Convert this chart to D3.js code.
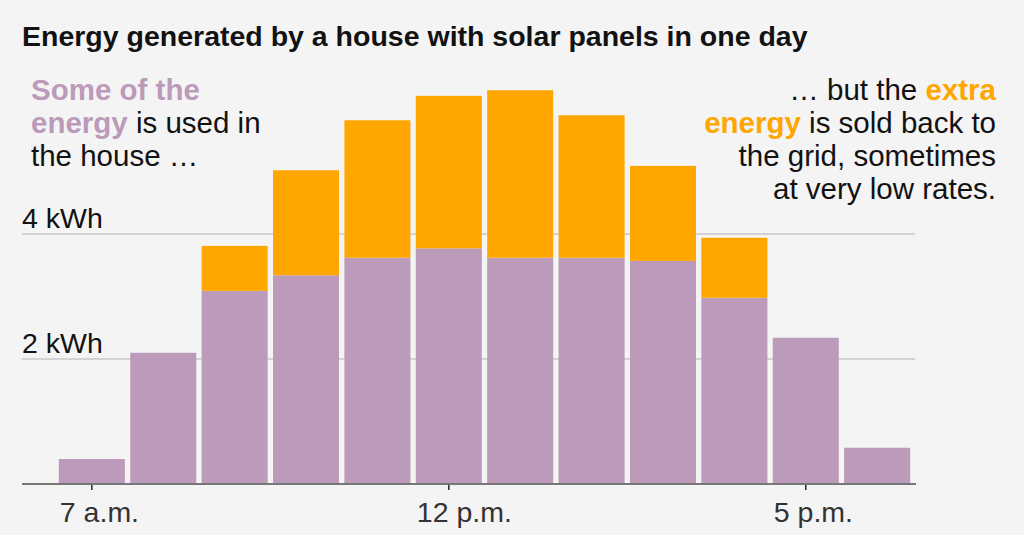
<!DOCTYPE html>
<html><head><meta charset="utf-8">
<script src="https://cdn.jsdelivr.net/npm/d3@7"></script>
<style>
html,body{margin:0;padding:0;background:#f4f4f4;}
svg{display:block;}
</style></head>
<body>
<svg id="c" width="1024" height="535"></svg>
<script>
const hours = ["7","8","9","10","11","12","13","14","15","16","17","18"];
const used  = [0.40, 2.10, 3.09, 3.34, 3.62, 3.77, 3.62, 3.62, 3.57, 2.98, 2.34, 0.58];
const extra = [0.00, 0.00, 0.72, 1.68, 2.20, 2.44, 2.68, 2.28, 1.52, 0.96, 0.00, 0.00];
const yTicks = [2, 4];
const yTickLabels = ["2 kWh", "4 kWh"];
const xTicks = ["7", "12", "17"];
const xTickLabels = ["7 a.m.", "12 p.m.", "5 p.m."];

const purple = "#bb9aba", orange = "#ffa600";
const ff = "'Liberation Sans', Arial, sans-serif";
const svg = d3.select("#c");
svg.append("rect").attr("width",1024).attr("height",535).attr("fill","#f4f4f4");

const x = d3.scaleBand().domain(hours).range([57.4, 911.6]).paddingInner(0.075).paddingOuter(0.02);
const y = d3.scaleLinear().domain([0, 4]).range([484, 234]);

const data = hours.map((h,i)=>({h, used: used[i], extra: extra[i]}));
const stack = d3.stack().keys(["used","extra"])(data);

// gridlines
svg.append("g").selectAll("line").data(yTicks).join("line")
  .attr("x1",22).attr("x2",915).attr("y1",d=>y(d)).attr("y2",d=>y(d))
  .attr("stroke","#c8c8c8").attr("stroke-width",1.3);

svg.append("g").selectAll("text").data(yTicks).join("text")
  .attr("x",22).attr("y",d=>y(d)-6)
  .attr("font-family",ff).attr("font-size",28.5)
  .attr("fill","#121212").text((d,i)=>yTickLabels[i]);

// bars
const colors = [purple, orange];
svg.append("g").selectAll("g").data(stack).join("g")
  .attr("fill",(d,i)=>colors[i])
  .selectAll("rect").data(d=>d.filter(s=>s[1]-s[0]>0)).join("rect")
  .attr("x",d=>x(d.data.h)).attr("width",x.bandwidth())
  .attr("y",d=>y(d[1])).attr("height",d=>y(d[0])-y(d[1]));

// x axis
const xAxis = d3.axisBottom(x).tickValues(xTicks).tickSize(6).tickSizeOuter(0)
  .tickFormat(d=>xTickLabels[xTicks.indexOf(d)]);
const gx = svg.append("g").attr("transform","translate(0,484)").call(xAxis);
gx.select(".domain").remove();
gx.selectAll(".tick line").attr("stroke","#222").attr("stroke-width",1.5);
gx.selectAll(".tick text").attr("font-family",ff)
  .attr("font-size",28.5).attr("fill","#333").attr("dy",0).attr("y",38)
  .attr("text-anchor","start").attr("x",-32);
svg.append("line").attr("x1",22).attr("x2",916).attr("y1",484).attr("y2",484)
  .attr("stroke","#777").attr("stroke-width",2);

// title
svg.append("text").attr("x",22).attr("y",46)
  .attr("font-family",ff).attr("font-weight",700)
  .attr("font-size",28.5).attr("fill","#121212")
  .text("Energy generated by a house with solar panels in one day");

// annotations
const fs = 29.5;
const leftLines = [
  [["Some of the", purple, 700]],
  [["energy", purple, 700], [" is used in", "#121212", 400]],
  [["the house …", "#121212", 400]]
];
leftLines.forEach((ln,i)=>{
  const t = svg.append("text").attr("x",31).attr("y",100+i*33).attr("font-family",ff).attr("font-size",fs);
  ln.forEach(([s,c,w])=>t.append("tspan").attr("fill",c).attr("font-weight",w).text(s));
});
const rightLines = [
  [["… but the ", "#121212", 400], ["extra", orange, 700]],
  [["energy", orange, 700], [" is sold back to", "#121212", 400]],
  [["the grid, sometimes", "#121212", 400]],
  [["at very low rates.", "#121212", 400]]
];
rightLines.forEach((ln,i)=>{
  const t = svg.append("text").attr("x",996).attr("y",100+i*33).attr("text-anchor","end").attr("font-family",ff).attr("font-size",fs);
  ln.forEach(([s,c,w])=>t.append("tspan").attr("fill",c).attr("font-weight",w).text(s));
});
</script>
</body></html>
